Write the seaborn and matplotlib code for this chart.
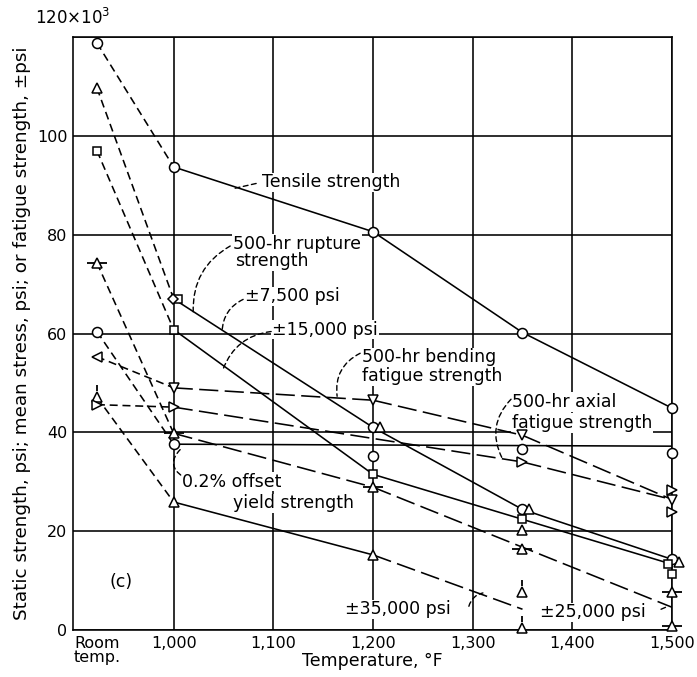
import matplotlib
matplotlib.use("Agg")
import matplotlib.pyplot as plt
import seaborn as sns

# ---------------- data (temperature in deg F, stress in 1000 psi) ----------------
RT = 923  # plotting position used for "Room temp." on the temperature axis

# Tensile strength
tensile_t = [RT, 1000, 1200, 1350, 1500]
tensile_v = [118.8, 93.7, 80.6, 60.2, 44.9]

# 0.2% offset yield strength: points and fitted curve
yield_pts_t = [RT, 1000, 1200, 1350, 1500]
yield_pts_v = [60.4, 37.6, 35.3, 36.7, 35.8]
yield_line_t = [RT, 1000, 1500]
yield_line_v = [60.4, 37.6, 37.2]

# 500-hr rupture strength / +-7,500 psi curve
a_line_t = [RT, 1000, 1200, 1350, 1500]
a_line_v = [109.7, 67.0, 41.0, 24.4, 14.3]
rupture_t = [1200, 1350, 1500]
rupture_v = [41.0, 24.4, 14.3]
a_tri_t = [RT, 1207, 1357, 1507]
a_tri_v = [109.7, 41.0, 24.4, 13.8]

# +-15,000 psi curve (squares)
b_line_t = [RT, 1000, 1200, 1350, 1500]
b_line_v = [97.0, 60.8, 31.5, 22.4, 13.3]
b_sq_t = [RT, 1004, 1000, 1200, 1350, 1496, 1500]
b_sq_v = [97.0, 67.0, 60.8, 31.5, 22.4, 13.3, 11.3]

# +-25,000 psi curve (triangles with cross bar)
c_line_t = [RT, 1000, 1200, 1500]
c_line_v = [74.3, 39.8, 28.9, 4.6]
c_pts_t = [RT, 1000, 1200, 1350, 1500, 1500]
c_pts_v = [74.3, 39.8, 28.9, 16.3, 7.7, 0.8]

# +-35,000 psi curve (triangles)
d_line_t = [RT, 1000, 1200, 1350]
d_line_v = [47.1, 25.9, 15.2, 4.2]
d_tri_t = [1000, 1200, 1350]
d_tri_v = [25.9, 15.2, 20.2]
d_tick_t = [RT, 1350, 1350]
d_tick_v = [47.1, 7.7, 0.4]

# diamond at 1,000 F
dia_t = [999]
dia_v = [67.0]

# 500-hr bending fatigue strength
bend_line_t = [RT, 1000, 1200, 1350, 1500]
bend_line_v = [55.3, 49.0, 46.5, 39.4, 26.4]
bend_rt_t = [RT]
bend_rt_v = [55.3]
bend_pts_t = [1000, 1200, 1350, 1500]
bend_pts_v = [49.0, 46.5, 39.4, 26.4]

# 500-hr axial fatigue strength
axial_line_t = [RT, 1000, 1350, 1500]
axial_line_v = [45.6, 45.1, 34.0, 26.4]
axial_pts_t = [RT, 1000, 1350, 1500, 1500]
axial_pts_v = [45.6, 45.1, 34.0, 28.3, 23.8]

x_ticks = [1000, 1100, 1200, 1300, 1400, 1500]
x_labels = ["1,000", "1,100", "1,200", "1,300", "1,400", "1,500"]
y_ticks = [0, 20, 40, 60, 80, 100, 120]
y_labels = ["0", "20", "40", "60", "80", "100", ""]

# ---------------- styling ----------------
sns.set_theme(style="white")
plt.rcParams["font.family"] = ["DejaVu Sans"]
LW = 1.15
SHORT = (0, (5, 3))
LONG = (0, (12, 4))
FS = 12.5

fig = plt.figure(figsize=(6.97, 6.77), dpi=100)
ax = fig.add_axes([73 / 697, 47 / 677, 599 / 697, 593 / 677])


def seg(ts, vs, style):
    sns.lineplot(x=ts, y=vs, ax=ax, color="black", linewidth=LW, linestyle=style,
                 estimator=None, sort=False, zorder=3)


def polyline(ts, vs, styles):
    for i in range(len(ts) - 1):
        seg(ts[i:i + 2], vs[i:i + 2], styles[i])


def marks(ts, vs, marker, ms, fill="white", mew=1.1):
    sns.lineplot(x=ts, y=vs, ax=ax, marker=marker, markersize=ms,
                 markerfacecolor=fill, markeredgecolor="black", markeredgewidth=mew,
                 linestyle="none", color="black", estimator=None, sort=False,
                 zorder=4, clip_on=False)


polyline(tensile_t, tensile_v, [SHORT, "-", "-", "-"])
polyline(yield_line_t, yield_line_v, [SHORT, "-"])
polyline(a_line_t, a_line_v, [SHORT, "-", "-", "-"])
polyline(b_line_t, b_line_v, [SHORT, "-", "-", "-"])
polyline(c_line_t, c_line_v, [SHORT, LONG, LONG])
polyline(d_line_t, d_line_v, [SHORT, "-", LONG])
polyline(bend_line_t, bend_line_v, [SHORT, LONG, LONG, LONG])
polyline(axial_line_t, axial_line_v, [SHORT, LONG, LONG])

marks(tensile_t, tensile_v, "o", 7.2)
marks(yield_pts_t, yield_pts_v, "o", 7.2)
marks(rupture_t, rupture_v, "o", 7.2)
marks(a_tri_t, a_tri_v, "^", 7.5)
marks(b_sq_t, b_sq_v, "s", 6.2)
marks(dia_t, dia_v, "D", 5.5)
marks(c_pts_t, c_pts_v, "_", 14, mew=1.3)
marks(c_pts_t, c_pts_v, "^", 7.5)
marks(d_tri_t, d_tri_v, "^", 7.5)
marks(d_tick_t, d_tick_v, [(0, 0.45), (0, 1.0)], 18, fill="none", mew=1.3)
marks(d_tick_t, d_tick_v, "^", 7.5)
marks(bend_rt_t, bend_rt_v, "<", 7.5)
marks(bend_pts_t, bend_pts_v, "v", 7.5)
marks(axial_pts_t, axial_pts_v, ">", 7.5)

# ---------------- axes ----------------
ax.set_xlim(899, 1500)
ax.set_ylim(0, 120)
ax.set_xticks(x_ticks, x_labels)
ax.set_xticks([RT], ["Room\ntemp."], minor=True)
ax.set_yticks(y_ticks, y_labels)
ax.grid(True, which="major", color="black", linewidth=LW)
ax.grid(False, which="minor")
ax.set_axisbelow(True)
ax.tick_params(axis="both", which="both", length=0, labelsize=11.5, pad=4,
               colors="black")
for t in ax.xaxis.get_minorticklabels():
    t.set_linespacing(0.95)
for sp in ax.spines.values():
    sp.set_color("black")
    sp.set_linewidth(LW)

ax.set_xlabel("Temperature, \u00b0F", fontsize=FS, color="black")
ax.xaxis.set_label_coords(0.5, -0.037)
ax.set_ylabel("Static strength, psi; mean stress, psi; or fatigue strength, \u00b1psi",
              fontsize=13.2, color="black")
ax.yaxis.set_label_coords(-0.07, 0.5)
fig.text(35 / 697, 1 - 18 / 677, "120\u00d710$^3$", fontsize=12, ha="left",
         va="center", color="black")

# ---------------- labels and leaders ----------------
BOX = dict(facecolor="white", edgecolor="none", pad=0.5)


def label(x, y, s, ha="left"):
    ax.text(x, y, s, fontsize=FS, ha=ha, va="center", color="black", bbox=BOX,
            zorder=1.5)


def leader(p0, p1, rad):
    ax.annotate("", xy=p1, xytext=p0,
                arrowprops=dict(arrowstyle="-", color="black", lw=1.0,
                                linestyle=(0, (3.5, 2.5)), shrinkA=0, shrinkB=0,
                                connectionstyle=f"arc3,rad={rad}"), zorder=3)


label(1088.8, 90.6, "Tensile strength")
leader((1061.7, 89.4), (1085.8, 90.5), 0.0)

label(1059.7, 78.1, "500-hr rupture")
label(1061.7, 74.7, "strength")
leader((1056.7, 77.7), (1019.6, 64.4), 0.3)

label(1071.7, 67.5, "\u00b17,500 psi")
leader((1069.7, 66.9), (1048.6, 60.4), 0.3)

label(1098.8, 60.8, "\u00b115,000 psi")
leader((1097.8, 60.4), (1049.6, 52.8), 0.3)

label(1189.1, 55.2, "500-hr bending")
label(1189.1, 51.4, "fatigue strength")
leader((1187.1, 56.0), (1164.0, 47.3), 0.35)

label(1339.5, 46.1, "500-hr axial")
label(1339.5, 41.9, "fatigue strength")
leader((1338.5, 46.7), (1329.5, 34.8), 0.35)

label(1008.5, 30.0, "0.2% offset")
label(1059.7, 25.6, "yield strength")
leader((1006.5, 36.5), (1009.5, 31.0), 0.6)

label(947.3, 9.7, "(c)", ha="center")

label(1172.0, 4.2, "\u00b135,000 psi")
leader((1296.2, 4.8), (1310.3, 7.5), -0.3)

label(1367.6, 3.6, "\u00b125,000 psi")
leader((1489.0, 4.2), (1496.0, 4.8), 0.0)

fig.savefig("out.png", dpi=100, facecolor="white")
